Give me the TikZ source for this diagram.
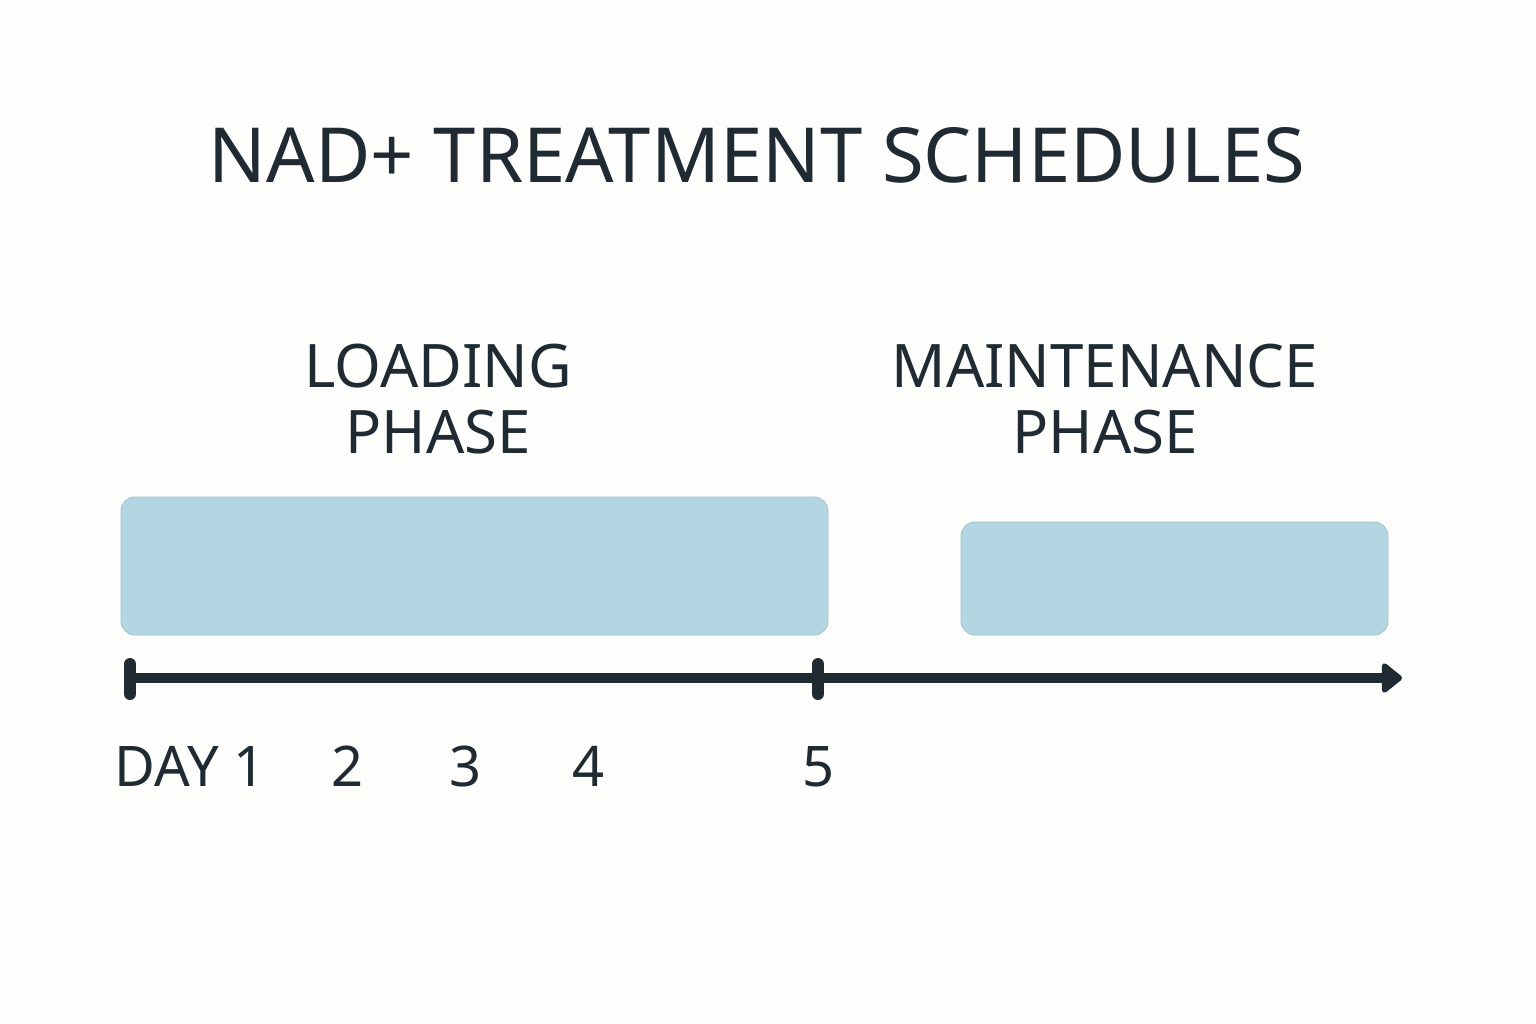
\documentclass[tikz,border=0pt]{standalone}
\usepackage{fontspec}
\setmainfont{Noto Sans}
\usetikzlibrary{arrows.meta}
\definecolor{ink}{HTML}{1F2A33}
\definecolor{bar}{HTML}{B3D6E3}
\definecolor{bg}{HTML}{FDFDFB}
\tikzset{
  phase/.style={fill=bar,draw=bar!90!black,line width=0.8pt,rounded corners=14pt},
  head/.style={text=ink,font=\fontsize{60}{70}\selectfont\bfseries,align=center,inner sep=0},
  daylbl/.style={text=ink,font=\fontsize{56}{60}\selectfont,inner sep=0,anchor=base},
  axisline/.style={draw=ink,line width=10pt},
}
\begin{document}
\begin{tikzpicture}[x=1pt,y=-1pt]
\fill[bg] (0,0) rectangle (1536,1024);
\useasboundingbox (0,0) rectangle (1536,1024);
\node[text=ink,font=\fontsize{76}{80}\selectfont\bfseries,inner sep=0] (title) at (757,155) {NAD+ TREATMENT SCHEDULES};
\node[head] (lp) at (438,399) {LOADING\\[-4pt]PHASE};
\node[head] (mp) at (1105,399) {MAINTENANCE\\[-4pt]PHASE};
\path[phase] (121,497) rectangle (828,635);
\path[phase] (961,522) rectangle (1388,635);
\coordinate (s) at (130,678);
\coordinate (m) at (818,678);
\coordinate (e) at (1402,678);
\draw[axisline,-{Triangle[length=22pt,width=34pt,round]}] (s) -- (e);
\draw[ink,line width=12pt,line cap=round] (130,664) -- (130,694);
\draw[ink,line width=12pt,line cap=round] (818,664) -- (818,694);
\node[daylbl] (d1) at (190,786) {DAY 1};
\node[daylbl] (d2) at (348,786) {2};
\node[daylbl] (d3) at (466,786) {3};
\node[daylbl] (d4) at (589,786) {4};
\node[daylbl] (d5) at (819,786) {5};
\end{tikzpicture}
\end{document}
